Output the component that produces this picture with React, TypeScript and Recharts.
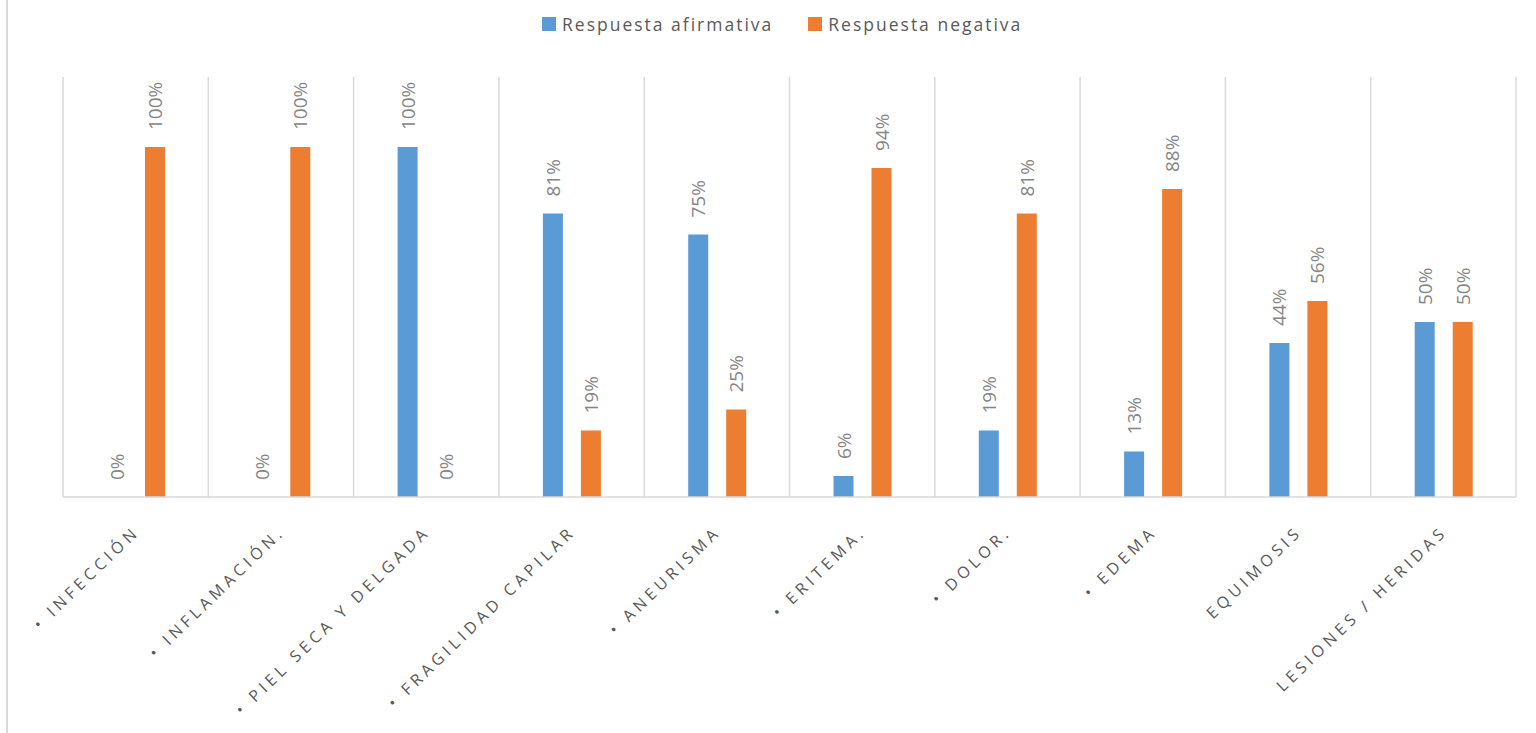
import { BarChart, Bar, XAxis, YAxis, CartesianGrid, Legend, LabelList } from "recharts";

const categories = [
  "• INFECCIÓN",
  "• INFLAMACIÓN.",
  "• PIEL SECA Y DELGADA",
  "• FRAGILIDAD CAPILAR",
  "• ANEURISMA",
  "• ERITEMA.",
  "• DOLOR.",
  "• EDEMA",
  "EQUIMOSIS",
  "LESIONES / HERIDAS",
];
const afirmativa = [0, 0, 1, 0.81, 0.75, 0.06, 0.19, 0.13, 0.44, 0.5];
const negativa = [1, 1, 0, 0.19, 0.25, 0.94, 0.81, 0.88, 0.56, 0.5];

const seriesNames = ["Respuesta afirmativa", "Respuesta negativa"];
const BLUE = "#5B9BD5";
const ORANGE = "#ED7D31";
const GRID = "#D9D9D9";
const FONT = "'Open Sans', sans-serif";

const chartData = categories.map((name, i) => ({
  name,
  afirmativa: afirmativa[i],
  negativa: negativa[i],
}));

const pct = (v: number) => `${Math.round(v * 100)}%`;

// vertical % label sitting above each bar
const ValueLabel = (props: any) => {
  const { x, y, width, value } = props;
  const cx = Number(x) + Number(width) / 2;
  const ty = Number(y) - 17;
  return (
    <text
      x={cx}
      y={ty}
      transform={`rotate(-90, ${cx}, ${ty})`}
      textAnchor="start"
      dominantBaseline="central"
      fill="#858585"
      fontSize={19}
      fontFamily={FONT}
    >
      {pct(Number(value))}
    </text>
  );
};

// slanted, letter-spaced category names
const CategoryTick = (props: any) => {
  const { x, y, payload } = props;
  const tx = x + 5;
  const ty = y + 28;
  return (
    <text
      x={tx}
      y={ty}
      transform={`rotate(-44, ${tx}, ${ty})`}
      textAnchor="end"
      fill="#595959"
      fontSize={16}
      fontFamily={FONT}
      letterSpacing={4.3}
    >
      {payload.value}
    </text>
  );
};

const LegendContent = () => {
  const colors = [BLUE, ORANGE];
  return (
    <div
      style={{
        height: 77,
        display: "flex",
        justifyContent: "flex-start",
        alignItems: "flex-start",
        paddingTop: 12,
        paddingLeft: 479,
        boxSizing: "border-box",
        gap: 35,
        fontFamily: FONT,
        fontSize: 17.5,
        letterSpacing: 2,
        color: "#595959",
      }}
    >
      {seriesNames.map((s, i) => (
        <div key={s} style={{ display: "flex", alignItems: "center", gap: 6 }}>
          <span style={{ width: 14, height: 14, background: colors[i], display: "inline-block" }} />
          <span>{s}</span>
        </div>
      ))}
    </div>
  );
};

export default function App() {
  return (
    <div style={{ position: "absolute", left: 0, top: 0, width: 1536, height: 733, background: "#fff" }}>
      <div style={{ position: "absolute", left: 6, top: 0, width: 2, height: 733, background: GRID }} />
      <BarChart
        width={1536}
        height={733}
        data={chartData}
        margin={{ top: 0, right: 20, bottom: 0, left: 63 }}
        barGap={18}
        barSize={20}
      >
        <CartesianGrid
          horizontal={false}
          stroke={GRID}
          strokeWidth={1.5}
          verticalCoordinatesGenerator={({ offset }: any) =>
            Array.from({ length: categories.length + 1 }, (_, i) => offset.left + (i * offset.width) / categories.length)
          }
        />
        <XAxis
          dataKey="name"
          interval={0}
          height={236}
          tickLine={false}
          axisLine={{ stroke: GRID, strokeWidth: 1.5 }}
          tick={<CategoryTick />}
        />
        <YAxis hide domain={[0, 1.2]} />
        <Legend verticalAlign="top" align="left" content={<LegendContent />} />
        <Bar dataKey="afirmativa" name={seriesNames[0]} fill={BLUE} minPointSize={0.01} isAnimationActive={false}>
          <LabelList dataKey="afirmativa" content={<ValueLabel />} />
        </Bar>
        <Bar dataKey="negativa" name={seriesNames[1]} fill={ORANGE} minPointSize={0.01} isAnimationActive={false}>
          <LabelList dataKey="negativa" content={<ValueLabel />} />
        </Bar>
      </BarChart>
    </div>
  );
}
